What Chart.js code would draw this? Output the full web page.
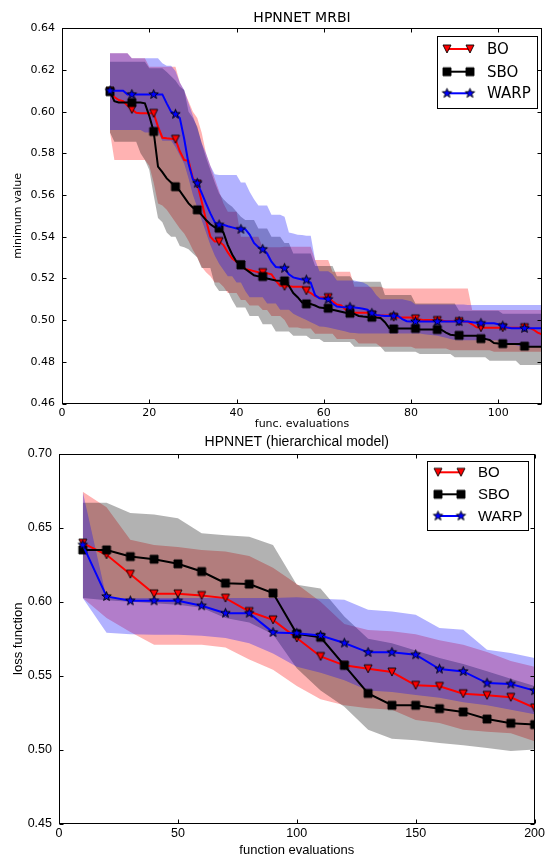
<!DOCTYPE html>
<html>
<head>
<meta charset="utf-8">
<script src="https://cdn.jsdelivr.net/npm/chart.js@4.4.0/dist/chart.umd.min.js"></script>
<style>
  html, body { margin: 0; padding: 0; background: #fff; }
  #wrap { position: relative; width: 548px; height: 857px; }
  canvas { position: absolute; left: 0; }
  #mrbi { top: 0; }
  #hier { top: 430px; }
</style>
</head>
<body>
<div id="wrap">
  <canvas id="mrbi" width="548" height="430"></canvas>
  <canvas id="hier" width="548" height="427"></canvas>
</div>
<script>
// ---------- HPNNET MRBI: minimum value per function evaluation (11..110) ----------
const mrbiEvals = [
  11,12,13,14,15,16,17,18,19,20, 21,22,23,24,25,26,27,28,29,30,
  31,32,33,34,35,36,37,38,39,40, 41,42,43,44,45,46,47,48,49,50,
  51,52,53,54,55,56,57,58,59,60, 61,62,63,64,65,66,67,68,69,70,
  71,72,73,74,75,76,77,78,79,80, 81,82,83,84,85,86,87,88,89,90,
  91,92,93,94,95,96,97,98,99,100, 101,102,103,104,105,106,107,108,109,110
];
const mrbiXTicks = [0, 20, 40, 60, 80, 100];
const mrbiYTicks = [0.46, 0.48, 0.50, 0.52, 0.54, 0.56, 0.58, 0.60, 0.62, 0.64];

const mrbiBO = [
  0.6099,0.607,0.6056,0.605,0.603,0.6011,0.5995,0.5992,0.5992,0.5992,
  0.5992,0.5928,0.5875,0.5872,0.587,0.5868,0.581,0.5768,0.5765,0.568,
  0.5653,0.557,0.548,0.540,0.5377,0.5377,0.536,0.5325,0.5295,0.528,
  0.5265,0.5245,0.524,0.5235,0.523,0.5228,0.5225,0.522,0.519,0.5165,
  0.5162,0.5162,0.516,0.516,0.516,0.5141,0.513,0.5115,0.5108,0.5108,
  0.5108,0.509,0.5075,0.507,0.505,0.504,0.5035,0.5035,0.5035,0.5035,
  0.5025,0.5022,0.5022,0.5022,0.5022,0.5014,0.5012,0.5012,0.5012,0.5012,
  0.5006,0.5003,0.5,0.5,0.5,0.4998,0.4998,0.4995,0.4995,0.4995,
  0.4993,0.4993,0.4993,0.498,0.4966,0.4964,0.4964,0.4964,0.4964,0.4964,
  0.4964,0.4964,0.4964,0.4964,0.4964,0.4964,0.4964,0.4955,0.494,0.4932
];
const mrbiSBO = [
  0.6096,0.605,0.6044,0.6044,0.6044,0.6044,0.6044,0.6044,0.604,0.598,
  0.5905,0.5736,0.571,0.568,0.566,0.564,0.562,0.559,0.556,0.554,
  0.5529,0.5505,0.548,0.546,0.5445,0.5441,0.542,0.536,0.5315,0.528,
  0.5265,0.5245,0.523,0.5215,0.521,0.5209,0.520,0.5195,0.519,0.5189,
  0.5188,0.5165,0.513,0.511,0.5085,0.5078,0.5077,0.507,0.506,0.5058,
  0.5057,0.505,0.5045,0.504,0.5035,0.5033,0.503,0.502,0.5017,0.5015,
  0.5014,0.5012,0.501,0.499,0.4962,0.4958,0.496,0.496,0.496,0.496,
  0.496,0.4955,0.4955,0.4955,0.4955,0.4955,0.4953,0.494,0.493,0.4928,
  0.4927,0.4925,0.4925,0.4925,0.4925,0.4911,0.491,0.4905,0.489,0.4888,
  0.4887,0.4885,0.4885,0.4885,0.4885,0.4875,0.4872,0.4872,0.4872,0.4872
];
const mrbiWARP = [
  0.610,0.610,0.610,0.610,0.6083,0.6083,0.6083,0.6083,0.6083,0.6083,
  0.6083,0.6083,0.6083,0.604,0.600,0.5988,0.597,0.587,0.575,0.5675,
  0.5657,0.561,0.556,0.5512,0.547,0.5457,0.5457,0.545,0.5445,0.544,
  0.5436,0.5436,0.541,0.537,0.535,0.534,0.532,0.528,0.5255,0.5252,
  0.5249,0.522,0.5205,0.520,0.5195,0.5193,0.518,0.512,0.5105,0.5102,
  0.510,0.508,0.5065,0.5063,0.5062,0.5062,0.506,0.5058,0.5055,0.505,
  0.5033,0.5025,0.5022,0.502,0.502,0.502,0.502,0.5005,0.4995,0.4993,
  0.4993,0.4993,0.4993,0.4993,0.4993,0.4993,0.4993,0.4993,0.4993,0.4993,
  0.4993,0.4993,0.4993,0.499,0.4987,0.4985,0.4985,0.4985,0.4985,0.498,
  0.4972,0.4965,0.4961,0.4961,0.4961,0.4961,0.4961,0.4961,0.4961,0.4961
];

// spread bands (upper / lower)
const mrbiBOHi = [
  0.628,0.628,0.628,0.628,0.628,0.6256,0.6256,0.6256,0.6256,0.6216,
  0.6216,0.6216,0.6216,0.6216,0.6216,0.6216,0.614,0.610,0.605,0.600,
  0.597,0.590,0.580,0.574,0.568,0.562,0.556,0.552,0.552,0.552,
  0.540,0.540,0.540,0.540,0.540,0.535,0.535,0.535,0.535,0.535,
  0.5352,0.5352,0.5352,0.5352,0.5352,0.5352,0.5352,0.5288,0.5288,0.5288,
  0.5288,0.5232,0.5232,0.5232,0.5232,0.5232,0.516,0.516,0.516,0.516,
  0.516,0.516,0.516,0.5152,0.5152,0.5152,0.5152,0.5152,0.5152,0.5152,
  0.5152,0.5152,0.5152,0.5152,0.5152,0.5152,0.5152,0.5152,0.5152,0.5152,
  0.5152,0.5152,0.5152,0.5048,0.5048,0.5048,0.5048,0.5048,0.5048,0.5048,
  0.5048,0.5048,0.5048,0.5048,0.5048,0.5048,0.5048,0.5048,0.5048,0.5048
];
const mrbiBOLo = [
  0.590,0.5768,0.5768,0.5768,0.5768,0.5768,0.5768,0.5768,0.5768,0.574,
  0.566,0.556,0.555,0.553,0.550,0.547,0.544,0.5416,0.538,0.5336,
  0.530,0.5256,0.523,0.521,0.518,0.518,0.516,0.513,0.513,0.513,
  0.5096,0.5096,0.507,0.507,0.507,0.5048,0.5048,0.502,0.502,0.502,
  0.500,0.4965,0.4965,0.4965,0.496,0.496,0.496,0.4935,0.4935,0.4935,
  0.4935,0.4935,0.491,0.491,0.491,0.491,0.491,0.4888,0.4888,0.4888,
  0.4888,0.4888,0.4872,0.4872,0.4872,0.4872,0.4872,0.4872,0.4872,0.4872,
  0.4864,0.4864,0.4864,0.4864,0.4864,0.4864,0.4864,0.4864,0.4856,0.4856,
  0.4856,0.4856,0.4856,0.4856,0.4856,0.4856,0.4856,0.4856,0.4848,0.4848,
  0.4848,0.4848,0.4848,0.4848,0.4848,0.4848,0.4848,0.4848,0.4848,0.4848
];
const mrbiSBOHi = [
  0.624,0.624,0.624,0.624,0.624,0.624,0.624,0.624,0.624,0.6208,
  0.6208,0.6208,0.6208,0.619,0.617,0.615,0.612,0.6104,0.600,0.597,
  0.5928,0.585,0.578,0.572,0.566,0.5608,0.558,0.556,0.5544,0.552,
  0.5496,0.548,0.548,0.548,0.544,0.544,0.544,0.540,0.540,0.540,
  0.537,0.537,0.532,0.532,0.532,0.532,0.532,0.526,0.526,0.526,
  0.526,0.526,0.521,0.521,0.521,0.521,0.5184,0.5184,0.5184,0.5184,
  0.5184,0.5184,0.5184,0.512,0.512,0.512,0.512,0.512,0.512,0.512,
  0.508,0.508,0.508,0.508,0.508,0.508,0.508,0.508,0.508,0.508,
  0.5045,0.5045,0.5045,0.5045,0.5045,0.5045,0.5045,0.5045,0.5045,0.5045,
  0.503,0.503,0.503,0.503,0.503,0.503,0.503,0.503,0.503,0.503
];
const mrbiSBOLo = [
  0.590,0.5856,0.5856,0.5856,0.5856,0.5856,0.5856,0.580,0.5768,0.572,
  0.560,0.549,0.547,0.542,0.540,0.540,0.5355,0.535,0.534,0.532,
  0.530,0.525,0.525,0.525,0.517,0.514,0.514,0.514,0.5096,0.506,
  0.506,0.506,0.502,0.502,0.502,0.498,0.498,0.498,0.4945,0.4945,
  0.4945,0.4945,0.4925,0.4925,0.4925,0.4925,0.491,0.491,0.491,0.4895,
  0.4895,0.4895,0.4895,0.4895,0.4895,0.4895,0.4872,0.4872,0.4872,0.4872,
  0.4872,0.4872,0.4872,0.4848,0.4848,0.4848,0.4848,0.4848,0.4848,0.4848,
  0.4848,0.4838,0.4838,0.4838,0.4838,0.4838,0.4838,0.4838,0.4838,0.4822,
  0.4822,0.4822,0.4822,0.4822,0.4822,0.4822,0.4822,0.4805,0.4805,0.4805,
  0.4805,0.4805,0.4805,0.4805,0.4785,0.4785,0.4785,0.4785,0.4785,0.4785
];
const mrbiWARPHi = [
  0.628,0.628,0.628,0.628,0.628,0.6256,0.6256,0.6256,0.6256,0.6256,
  0.6256,0.6256,0.6232,0.622,0.622,0.6195,0.614,0.6104,0.604,0.598,
  0.592,0.585,0.580,0.574,0.570,0.5696,0.5696,0.5696,0.5696,0.5696,
  0.566,0.566,0.5616,0.558,0.555,0.555,0.555,0.5505,0.5505,0.5505,
  0.5496,0.542,0.5415,0.541,0.5408,0.5405,0.5405,0.529,0.5235,0.5235,
  0.5235,0.522,0.519,0.519,0.519,0.519,0.519,0.5185,0.518,0.517,
  0.515,0.512,0.510,0.510,0.510,0.510,0.510,0.510,0.5095,0.509,
  0.5075,0.5075,0.5075,0.5075,0.5075,0.5075,0.5075,0.5075,0.5075,0.5075,
  0.5075,0.5075,0.5072,0.5072,0.5072,0.5072,0.5072,0.5072,0.5072,0.5072,
  0.5072,0.5072,0.5072,0.5072,0.5072,0.5072,0.5072,0.5072,0.5072,0.5072
];
const mrbiWARPLo = [
  0.5912,0.5912,0.5912,0.5912,0.5912,0.5912,0.5912,0.5912,0.590,0.590,
  0.590,0.590,0.586,0.586,0.586,0.583,0.579,0.575,0.568,0.560,
  0.554,0.548,0.542,0.536,0.531,0.527,0.524,0.521,0.521,0.518,
  0.518,0.514,0.511,0.511,0.511,0.511,0.508,0.508,0.508,0.505,
  0.505,0.505,0.503,0.502,0.501,0.500,0.499,0.498,0.497,0.4968,
  0.4965,0.496,0.4955,0.495,0.4945,0.494,0.4938,0.4936,0.4936,0.4936,
  0.4936,0.4936,0.4936,0.4936,0.4936,0.4936,0.4936,0.4936,0.4936,0.4936,
  0.4936,0.4936,0.4932,0.493,0.4928,0.4925,0.492,0.4915,0.491,0.4905,
  0.4904,0.4904,0.4904,0.4904,0.4904,0.4904,0.4904,0.4904,0.4904,0.4904,
  0.4895,0.489,0.4885,0.488,0.4875,0.4872,0.4872,0.4872,0.4872,0.4872
];

// ---------- HPNNET (hierarchical model): loss per function evaluation ----------
const hierEvals = [10,20,30,40,50,60,70,80,90,100,110,120,130,140,150,160,170,180,190,200];
const hierXTicks = [0, 50, 100, 150, 200];
const hierYTicks = [0.45, 0.50, 0.55, 0.60, 0.65, 0.70];

const hierBO   = [0.6397,0.6318,0.6187,0.6054,0.6054,0.6043,0.6025,0.5934,0.5878,0.5755,0.563,0.557,0.5547,0.5525,0.5435,0.5428,0.5378,0.5367,0.5354,0.5282];
const hierSBO  = [0.6351,0.6351,0.6306,0.6288,0.6257,0.6205,0.6126,0.612,0.6059,0.5784,0.576,0.557,0.538,0.530,0.530,0.5277,0.5255,0.5207,0.5178,0.5169];
const hierWARP = [0.6385,0.6036,0.6007,0.6007,0.6007,0.5973,0.5923,0.5923,0.5793,0.5788,0.5772,0.5721,0.5658,0.5658,0.5642,0.5545,0.5529,0.545,0.5444,0.5399];

const hierBOHi   = [0.6745,0.664,0.642,0.6385,0.637,0.635,0.634,0.631,0.623,0.612,0.600,0.585,0.581,0.580,0.578,0.574,0.571,0.566,0.560,0.556];
const hierBOLo   = [0.6025,0.589,0.5795,0.571,0.571,0.571,0.569,0.561,0.554,0.543,0.534,0.530,0.528,0.527,0.520,0.518,0.5135,0.512,0.511,0.5056];
const hierSBOHi  = [0.667,0.667,0.660,0.659,0.6565,0.6464,0.645,0.644,0.6385,0.6115,0.609,0.590,0.575,0.572,0.567,0.562,0.558,0.553,0.548,0.543];
const hierSBOLo  = [0.6025,0.601,0.600,0.599,0.598,0.596,0.589,0.586,0.578,0.555,0.540,0.529,0.5135,0.5074,0.5063,0.5045,0.503,0.501,0.499,0.500];
const hierWARPHi = [0.6745,0.6025,0.6025,0.6025,0.6025,0.6025,0.6025,0.6025,0.6025,0.603,0.602,0.6014,0.5946,0.5934,0.5912,0.5822,0.5811,0.5676,0.5653,0.562];
const hierWARPLo = [0.6025,0.579,0.578,0.5777,0.5777,0.577,0.5755,0.572,0.565,0.556,0.552,0.547,0.540,0.539,0.537,0.535,0.532,0.530,0.527,0.524];

const seriesNames = ['BO', 'SBO', 'WARP'];
const lineColors  = ['#ff0000', '#000000', '#0000ff'];
const bandColors  = ['rgba(255,0,0,0.3)', 'rgba(0,0,0,0.3)', 'rgba(0,0,255,0.3)'];

// ---------- marker sprites ----------
function makeMarker(kind, fill, size) {
  const pad = 2, s = Math.ceil(size) + pad * 2;
  const c = document.createElement('canvas');
  c.width = s; c.height = s;
  const g = c.getContext('2d');
  const h = s / 2, r = size / 2;
  g.beginPath();
  if (kind === 'tri') {            // downward triangle
    g.moveTo(h - r, h - r); g.lineTo(h + r, h - r); g.lineTo(h, h + r); g.closePath();
  } else if (kind === 'sq') {
    g.rect(h - r, h - r, size, size);
  } else {                          // five-point star
    for (let i = 0; i < 10; i++) {
      const a = -Math.PI / 2 + i * Math.PI / 5;
      const rr = i % 2 === 0 ? r * 1.1 : r * 0.45;
      const px = h + rr * Math.cos(a), py = h + rr * Math.sin(a);
      if (i === 0) g.moveTo(px, py); else g.lineTo(px, py);
    }
    g.closePath();
  }
  g.fillStyle = fill; g.fill();
  g.lineWidth = 0.9; g.strokeStyle = '#000'; g.lineJoin = 'miter'; g.stroke();
  return c;
}
const markers = [makeMarker('tri', '#ff0000', 8), makeMarker('sq', '#000000', 8), makeMarker('star', '#0000ff', 9)];

function pts(xs, ys) { return xs.map((x, i) => ({ x: x, y: ys[i] })); }

function buildDatasets(xs, lines, bands, every) {
  const ds = [];
  // bands: BO drawn first, then SBO, then WARP on top
  const bandOrder = [30, 20, 10];
  bands.forEach((b, k) => {
    const loIdx = ds.length + 1;
    ds.push({ data: pts(xs, b[0]), borderWidth: 0, borderColor: 'rgba(0,0,0,0)', pointRadius: 0,
              fill: { target: loIdx, above: bandColors[k], below: bandColors[k] }, order: bandOrder[k] });
    ds.push({ data: pts(xs, b[1]), borderWidth: 0, borderColor: 'rgba(0,0,0,0)', pointRadius: 0,
              fill: false, order: bandOrder[k] });
  });
  const lineOrder = [2, 1, 0];
  lines.forEach((ys, k) => {
    ds.push({
      label: seriesNames[k], data: pts(xs, ys), borderColor: lineColors[k], borderWidth: 2,
      fill: false, tension: 0, order: lineOrder[k],
      pointStyle: markers[k],
      pointRadius: ctx => (ctx.dataIndex % every === 0 ? 4 : 0),
      pointHoverRadius: 0
    });
  });
  return ds;
}

// frame, inward ticks, titles, axis labels and legend
function decorations(o) {
  return {
    id: 'decor',
    afterDraw(chart) {
      const { ctx, chartArea: a, scales } = chart;
      ctx.save();
      ctx.strokeStyle = '#000';
      ctx.lineWidth = 1;
      const L = Math.round(a.left) + 0.5, R = Math.round(a.right) - 0.5;
      const T = Math.round(a.top) + 0.5, B = Math.round(a.bottom) - 0.5;
      ctx.strokeRect(L, T, R - L, B - T);
      ctx.beginPath();
      o.xTicks.forEach(v => {
        const px = Math.round(scales.x.getPixelForValue(v)) + 0.5;
        ctx.moveTo(px, B); ctx.lineTo(px, B - 4);
        ctx.moveTo(px, T); ctx.lineTo(px, T + 4);
      });
      o.yTicks.forEach(v => {
        const py = Math.round(scales.y.getPixelForValue(v)) + 0.5;
        ctx.moveTo(L, py); ctx.lineTo(L + 4, py);
        ctx.moveTo(R, py); ctx.lineTo(R - 4, py);
      });
      ctx.stroke();

      ctx.fillStyle = '#000';
      ctx.textAlign = 'center';
      ctx.textBaseline = 'middle';
      ctx.font = o.titleFont;
      ctx.fillText(o.title, (a.left + a.right) / 2, o.titleY);
      ctx.font = o.labelFont;
      ctx.fillText(o.xLabel, (a.left + a.right) / 2, o.xLabelY);
      ctx.save();
      ctx.translate(o.yLabelX, (a.top + a.bottom) / 2);
      ctx.rotate(-Math.PI / 2);
      ctx.fillText(o.yLabel, 0, 0);
      ctx.restore();

      // legend
      const lg = o.legend;
      ctx.fillStyle = '#fff';
      ctx.fillRect(lg.x, lg.y, lg.w, lg.h);
      ctx.strokeStyle = '#000';
      ctx.strokeRect(lg.x + 0.5, lg.y + 0.5, lg.w, lg.h);
      ctx.font = o.legendFont;
      ctx.textAlign = 'left';
      seriesNames.forEach((name, k) => {
        const y = lg.rows[k];
        ctx.strokeStyle = lineColors[k];
        ctx.lineWidth = 2;
        ctx.beginPath(); ctx.moveTo(lg.x1, y); ctx.lineTo(lg.x2, y); ctx.stroke();
        const m = markers[k];
        ctx.drawImage(m, lg.x1 - m.width / 2, y - m.height / 2);
        ctx.drawImage(m, lg.x2 - m.width / 2, y - m.height / 2);
        ctx.fillStyle = '#000';
        ctx.fillText(name, lg.tx, y + 1);
      });
      ctx.restore();
    }
  };
}

function makeChart(id, o) {
  return new Chart(document.getElementById(id), {
    type: 'line',
    data: { datasets: buildDatasets(o.xs, o.lines, o.bands, o.every) },
    options: {
      responsive: false, animation: false, events: [],
      layout: { padding: o.padding },
      plugins: { legend: { display: false }, tooltip: { enabled: false }, filler: { propagate: false } },
      scales: {
        x: {
          type: 'linear', min: o.xMin, max: o.xMax,
          afterBuildTicks: s => { s.ticks = o.xTicks.map(v => ({ value: v })); },
          afterFit: s => { s.height = o.xAxisHeight; },
          grid: { display: false, drawTicks: false }, border: { display: false },
          ticks: { color: '#000', font: o.tickFont, padding: o.xTickPad, maxRotation: 0, autoSkip: false,
                   callback: v => String(v) }
        },
        y: {
          type: 'linear', min: o.yMin, max: o.yMax,
          afterBuildTicks: s => { s.ticks = o.yTicks.map(v => ({ value: v })); },
          afterFit: s => { s.width = o.yAxisWidth; },
          grid: { display: false, drawTicks: false }, border: { display: false },
          ticks: { color: '#000', font: o.tickFont, padding: o.yTickPad, autoSkip: false,
                   callback: v => v.toFixed(2) }
        }
      }
    },
    plugins: [decorations(o)]
  });
}

makeChart('mrbi', {
  xs: mrbiEvals,
  lines: [mrbiBO, mrbiSBO, mrbiWARP],
  bands: [[mrbiBOHi, mrbiBOLo], [mrbiSBOHi, mrbiSBOLo], [mrbiWARPHi, mrbiWARPLo]],
  every: 5,
  xMin: 0, xMax: 110, yMin: 0.46, yMax: 0.64,
  xTicks: mrbiXTicks, yTicks: mrbiYTicks,
  padding: { top: 28.3, right: 2, left: 0, bottom: 0 },
  xAxisHeight: 26.5, yAxisWidth: 62, xTickPad: 3, yTickPad: 7,
  tickFont: { family: 'DejaVu Sans', size: 11 },
  title: 'HPNNET MRBI', titleFont: '14px "DejaVu Sans"', titleY: 18,
  xLabel: 'func. evaluations', yLabel: 'minimum value', labelFont: '11px "DejaVu Sans"',
  xLabelY: 424, yLabelX: 18,
  legendFont: '15px "DejaVu Sans"',
  legend: { x: 437, y: 36, w: 100, h: 72, rows: [49, 71.7, 93.3], x1: 447, x2: 470, tx: 487 }
});

makeChart('hier', {
  xs: hierEvals,
  lines: [hierBO, hierSBO, hierWARP],
  bands: [[hierBOHi, hierBOLo], [hierSBOHi, hierSBOLo], [hierWARPHi, hierWARPLo]],
  every: 1,
  xMin: 0, xMax: 200, yMin: 0.45, yMax: 0.70,
  xTicks: hierXTicks, yTicks: hierYTicks,
  padding: { top: 24, right: 13, left: 0, bottom: 0 },
  xAxisHeight: 33.5, yAxisWidth: 59, xTickPad: 3, yTickPad: 7,
  tickFont: { family: 'Liberation Sans', size: 12.5 },
  title: 'HPNNET (hierarchical model)', titleFont: '14px "Liberation Sans"', titleY: 12,
  xLabel: 'function evaluations', yLabel: 'loss function', labelFont: '13px "Liberation Sans"',
  xLabelY: 420, yLabelX: 18,
  legendFont: '15px "Liberation Sans"',
  legend: { x: 427, y: 31, w: 101, h: 69, rows: [42.3, 64.3, 86], x1: 438, x2: 461, tx: 478 }
});
</script>
</body>
</html>
